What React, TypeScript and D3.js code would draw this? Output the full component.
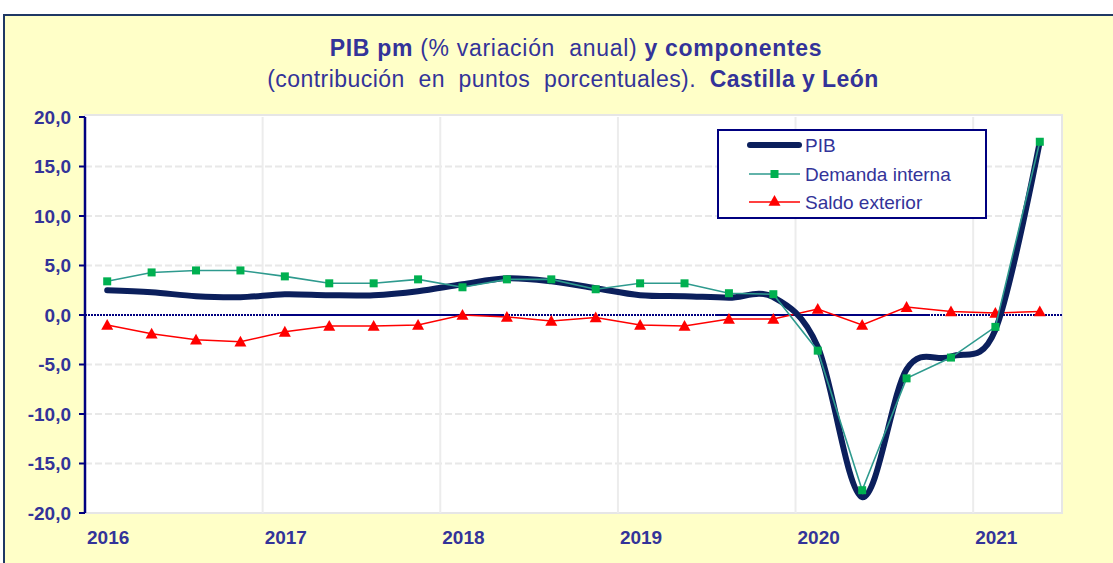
import React from "react";
import * as d3 from "d3";

const quarters: string[] = [
  "2016T1","2016T2","2016T3","2016T4",
  "2017T1","2017T2","2017T3","2017T4",
  "2018T1","2018T2","2018T3","2018T4",
  "2019T1","2019T2","2019T3","2019T4",
  "2020T1","2020T2","2020T3","2020T4",
  "2021T1","2021T2",
];
const pib: number[] = [2.5, 2.3, 1.9, 1.8, 2.1, 2.0, 2.0, 2.4, 3.1, 3.7, 3.4, 2.7, 2.0, 1.9, 1.75, 1.8, -3.2, -18.4, -5.5, -4.2, -1.5, 17.5];
const demandaInterna: number[] = [3.4, 4.3, 4.5, 4.5, 3.9, 3.2, 3.2, 3.6, 2.8, 3.6, 3.6, 2.6, 3.2, 3.2, 2.2, 2.1, -3.6, -17.7, -6.4, -4.3, -1.2, 17.5];
const saldoExterior: number[] = [-1.0, -1.9, -2.5, -2.7, -1.7, -1.1, -1.1, -1.0, 0.0, -0.2, -0.6, -0.25, -1.0, -1.1, -0.4, -0.4, 0.6, -1.0, 0.8, 0.35, 0.2, 0.35];
const yearLabels: string[] = ["2016", "2017", "2018", "2019", "2020", "2021"];
const yTicks: number[] = [20, 15, 10, 5, 0, -5, -10, -15, -20];
const seriesNames: string[] = ["PIB", "Demanda interna", "Saldo exterior"];

const TEXT = "#333399";
const NAVY = "#000080";
const FONT = "'Liberation Sans', Arial, sans-serif";

export default function App() {
  const W = 1113, H = 563;
  const left = 85, right = 1062, top = 117, bottom = 513;
  const x = d3.scaleBand<string>().domain(quarters).range([left, right]).padding(0);
  const bw = x.bandwidth();
  const cx = (q: string) => (x(q) as number) + bw / 2;
  const y = d3.scaleLinear().domain([-20, 20]).range([bottom, top]);

  const smooth = d3.line<number>().x((_, i) => cx(quarters[i])).y((d) => y(d)).curve(d3.curveCardinal.tension(0));
  const straight = d3.line<number>().x((_, i) => cx(quarters[i])).y((d) => y(d));

  const fmt = (v: number) => v.toFixed(1).replace(".", ",");
  const yearStart = (yr: string) => x(yr + "T1") as number;

  // zero-line solid segments (fraction of x range) as seen in the original
  const solidSegs: [number, number][] = [[0.2, 0.427], [0.645, 0.863]];

  const tri = (px: number, py: number) => {
    const s = 6;
    return `M${px},${py - s}L${px + s},${py + s * 0.8}L${px - s},${py + s * 0.8}Z`;
  };

  const legendX = 718, legendY = 130, legendW = 268, legendH = 88;
  const rowY = [145, 174, 202];

  return (
    <svg width={W} height={H} style={{ position: "absolute", left: 0, top: 0 }} fontFamily={FONT}>
      <rect x={4} y={15} width={1140} height={600} fill="#FFFFC8" stroke="#1F3864" strokeWidth={2} />
      <text x={576} y={56} textAnchor="middle" fill={TEXT} fontSize={23} letterSpacing={0.7} style={{ whiteSpace: "pre" }}>
        <tspan fontWeight="bold">PIB pm</tspan>
        <tspan>{" (% variación  anual) "}</tspan>
        <tspan fontWeight="bold">y componentes</tspan>
      </text>
      <text x={573} y={87} textAnchor="middle" fill={TEXT} fontSize={23} letterSpacing={0.45} style={{ whiteSpace: "pre" }}>
        <tspan>{"(contribución  en  puntos  porcentuales).  "}</tspan>
        <tspan fontWeight="bold">Castilla y León</tspan>
      </text>

      <rect x={left} y={top - 2} width={right - left} height={bottom - top + 2} fill="#ffffff" stroke="#e6e6e6" strokeWidth={2} />
      {yTicks.filter((v) => v !== 0 && v !== 20 && v !== -20).map((v) => (
        <line key={"h" + v} x1={left} x2={right} y1={y(v)} y2={y(v)} stroke="#e8e8e8" strokeWidth={2} strokeDasharray="7,3" />
      ))}
      {yearLabels.slice(1).map((yr) => (
        <line key={"v" + yr} x1={yearStart(yr)} x2={yearStart(yr)} y1={top} y2={bottom} stroke="#ececec" strokeWidth={2} />
      ))}

      <line x1={left} x2={right} y1={y(0)} y2={y(0)} stroke={NAVY} strokeWidth={2.2} strokeDasharray="2,1" />
      {solidSegs.map(([a, b], i) => (
        <line key={"s" + i} x1={left + a * (right - left)} x2={left + b * (right - left)} y1={y(0)} y2={y(0)} stroke={NAVY} strokeWidth={2} />
      ))}

      <line x1={left} x2={left} y1={top} y2={bottom} stroke={NAVY} strokeWidth={2.5} />
      {yTicks.map((v) => (
        <g key={"t" + v}>
          <line x1={left - 6} x2={left} y1={y(v)} y2={y(v)} stroke={NAVY} strokeWidth={2} />
          <text x={71} y={y(v)} dy="0.36em" textAnchor="end" fill={TEXT} fontSize={19} fontWeight="bold">{fmt(v)}</text>
        </g>
      ))}
      {yearLabels.map((yr) => (
        <text key={yr} x={yearStart(yr) + 2} y={544} fill={TEXT} fontSize={19} fontWeight="bold">{yr}</text>
      ))}

      <path d={straight(saldoExterior) as string} fill="none" stroke="#FF0000" strokeWidth={1.5} />
      {saldoExterior.map((v, i) => (
        <path key={"r" + i} d={tri(cx(quarters[i]), y(v))} fill="#FF0000" />
      ))}
      <path d={smooth(pib) as string} fill="none" stroke="#0B1F5C" strokeWidth={6} strokeLinejoin="round" strokeLinecap="round" />
      <path d={straight(demandaInterna) as string} fill="none" stroke="#2E9A8E" strokeWidth={1.6} />
      {demandaInterna.map((v, i) => (
        <rect key={"g" + i} x={cx(quarters[i]) - 4} y={y(v) - 4} width={8} height={8} fill="#00B050" />
      ))}

      <rect x={legendX} y={legendY} width={legendW} height={legendH} fill="#ffffff" stroke={NAVY} strokeWidth={2} />
      <line x1={750} x2={799} y1={rowY[0]} y2={rowY[0]} stroke="#0B1F5C" strokeWidth={6} strokeLinecap="round" />
      <line x1={749} x2={800} y1={rowY[1]} y2={rowY[1]} stroke="#2E9A8E" strokeWidth={1.6} />
      <rect x={770.5} y={rowY[1] - 4} width={8} height={8} fill="#00B050" />
      <line x1={749} x2={800} y1={rowY[2]} y2={rowY[2]} stroke="#FF0000" strokeWidth={1.5} />
      <path d={tri(774.5, rowY[2] - 1)} fill="#FF0000" />
      {seriesNames.map((n, i) => (
        <text key={n} x={805} y={rowY[i]} dy="0.36em" fill={TEXT} fontSize={19}>{n}</text>
      ))}
    </svg>
  );
}
